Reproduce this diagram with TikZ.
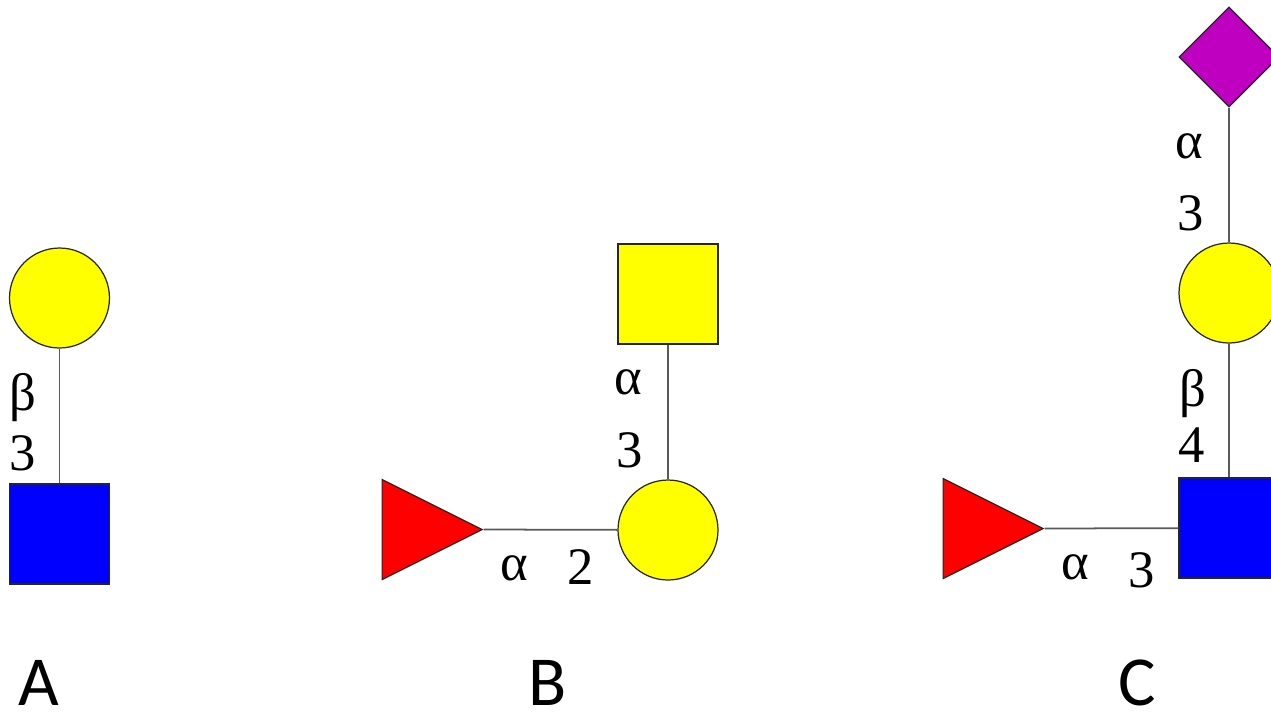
\documentclass[tikz,border=0pt]{standalone}
\usepackage{xcolor}
\definecolor{gal}{HTML}{FFFF00}
\definecolor{glcnac}{HTML}{0000FF}
\definecolor{fuc}{HTML}{FF0000}
\definecolor{neu}{HTML}{C000C0}
\usepackage{fontspec}
\setmainfont{Liberation Serif}
\newfontfamily\panelfont{Carlito}
\usetikzlibrary{shapes.geometric}
\tikzset{
  sugar/.style={draw=black!85, line width=0.7pt, inner sep=0pt},
  circ/.style={sugar, circle, fill=gal, minimum size=2cm},
  squ/.style={sugar, rectangle, minimum size=2cm},
  tri/.style={sugar, isosceles triangle, isosceles triangle stretches, fill=fuc,
    minimum width=2cm, minimum height=2cm, anchor=lower side},
  dia/.style={sugar, diamond, fill=neu, minimum size=2cm},
  bond/.style={draw=black!65, line width=1pt},
  lab/.style={font=\fontsize{30}{30}\selectfont, text=black, inner sep=0pt},
  panel/.style={font=\panelfont\fontsize{40}{40}\selectfont, inner sep=0pt}
}
\begin{document}
\begin{tikzpicture}[x=0.02cm, y=-0.02cm]
  \useasboundingbox (0,0) rectangle (1271,711);
  \clip (0,0) rectangle (1271,711);
  % A
  \node[circ] (circA) at (59.5,298) {};
  \node[squ, fill=glcnac] (squA) at (59.5,534) {};
  \draw[bond] (circA) -- (squA);
  \node[lab] (betaA) at (23,398) {β};
  \node[lab] (numA) at (23,453) {3};
  \node[panel] (panelA) at (39,683) {A};
  % B
  \node[squ, fill=gal] (squB) at (668,294) {};
  \node[circ] (circB) at (668,530) {};
  \node[tri] (triB) at (381.5,529.5) {};
  \draw[bond] (squB) -- (circB);
  \draw[bond] (triB.apex) -- (circB);
  \node[lab] (alphaBv) at (628,382) {α};
  \node[lab] (numBv) at (630,450) {3};
  \node[lab] (alphaBh) at (514,568) {α};
  \node[lab] (numBh) at (581,567) {2};
  \node[panel] (panelB) at (548,683) {B};
  % C
  \node[dia] (diaC) at (1229,57) {};
  \node[circ] (circC) at (1229,293) {};
  \node[squ, fill=glcnac] (squC) at (1229,528) {};
  \node[tri] (triC) at (942.5,528.5) {};
  \draw[bond] (diaC) -- (circC);
  \draw[bond] (circC) -- (squC);
  \draw[bond] (triC.apex) -- (squC);
  \node[lab] (alphaCa) at (1189,146) {α};
  \node[lab] (numCa) at (1191,213) {3};
  \node[lab] (betaC) at (1193,394) {β};
  \node[lab] (numCb) at (1192,445) {4};
  \node[lab] (alphaCh) at (1075,567) {α};
  \node[lab] (numCh) at (1142,570) {3};
  \node[panel] (panelC) at (1137,683) {C};
\end{tikzpicture}
\end{document}
